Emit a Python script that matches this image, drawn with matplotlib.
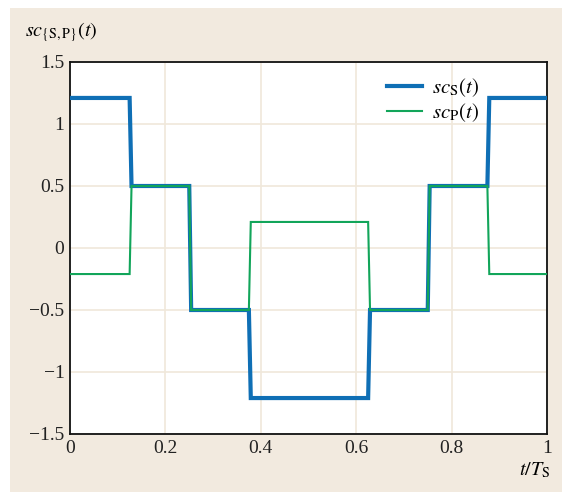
import matplotlib
matplotlib.use("Agg")
import matplotlib.pyplot as plt
import numpy as np
from matplotlib.patches import Rectangle

# Data: piecewise-constant levels between breakpoints (t/T_S)
breaks = [0.0, 0.125, 0.25, 0.375, 0.625, 0.75, 0.875, 1.0]
sc_S_levels = [1.21, 0.5, -0.5, -1.21, -0.5, 0.5, 1.21]
sc_P_levels = [-0.21, 0.5, -0.5, 0.21, -0.5, 0.5, -0.21]
x_ticks = [0, 0.2, 0.4, 0.6, 0.8, 1]
x_ticklabels = ["0", "0.2", "0.4", "0.6", "0.8", "1"]
y_ticks = [-1.5, -1, -0.5, 0, 0.5, 1, 1.5]
y_ticklabels = ["\u22121.5", "\u22121", "\u22120.5", "0", "0.5", "1", "1.5"]
dt = 0.004  # sampling step visible as slight slant at transitions


def step_path(breaks, levels, dt):
    xs, ys = [breaks[0]], [levels[0]]
    for i in range(1, len(levels)):
        xs += [breaks[i], breaks[i] + dt]
        ys += [levels[i - 1], levels[i]]
    xs.append(breaks[-1])
    ys.append(levels[-1])
    return xs, ys


plt.rcParams["font.family"] = "serif"
plt.rcParams["font.serif"] = ["Liberation Serif", "DejaVu Serif"]
plt.rcParams["mathtext.fontset"] = "stix"

W, H = 567, 493
fig = plt.figure(figsize=(W / 100, H / 100), dpi=100, facecolor="white")
bg = "#f2eadf"
fig.patches.append(Rectangle((10 / W, 1 - 492 / H), 552 / W, 484 / H,
                             transform=fig.transFigure, facecolor=bg,
                             edgecolor="none", zorder=-10))

ax = fig.add_axes([70 / W, 1 - 434 / H, 477 / W, 372 / H])
ax.set_facecolor("white")

xs, ys = step_path(breaks, sc_S_levels, dt)
ax.plot(xs, ys, color="#0f6fb5", lw=3.0, label=r"$sc_{\mathrm{S}}(t)$",
        solid_joinstyle="miter", zorder=3)
xs, ys = step_path(breaks, sc_P_levels, dt)
ax.plot(xs, ys, color="#12a55a", lw=1.5, label=r"$sc_{\mathrm{P}}(t)$",
        solid_joinstyle="miter", zorder=4)

ax.set_xlim(0, 1)
ax.set_ylim(-1.5, 1.5)
ax.set_xticks(x_ticks)
ax.set_xticklabels(x_ticklabels)
ax.set_yticks(y_ticks)
ax.set_yticklabels(y_ticklabels)
ax.tick_params(length=0, labelsize=14, pad=4, colors="#222222")
ax.grid(True, color="#f0e8da", lw=1.2)
ax.set_axisbelow(True)
for s in ax.spines.values():
    s.set_linewidth(1.3)
    s.set_color("#111111")

fig.text(25 / W, 1 - 32 / H, r"$sc_{\{\mathrm{S,P}\}}(t)$", fontsize=14.5,
         va="center", ha="left")
fig.text(550 / W, 1 - 470 / H, r"$t/T_{\mathrm{S}}$", fontsize=14.5,
         va="center", ha="right")

leg = ax.legend(loc="upper left", bbox_to_anchor=(0.625, 1.012), frameon=False,
                fontsize=15, handlelength=1.7, labelspacing=0.12,
                handletextpad=0.45)

fig.savefig("out.png", dpi=100, facecolor="white")
